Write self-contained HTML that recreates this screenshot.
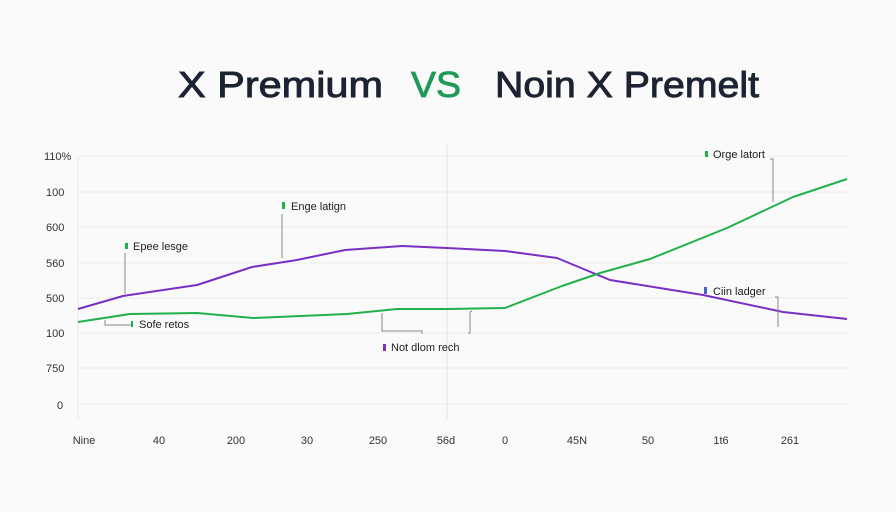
<!DOCTYPE html>
<html><head><meta charset="utf-8"><style>
html,body{margin:0;padding:0;background:#fafafa;}
svg{display:block;}
text{font-family:"Liberation Sans",sans-serif;}
</style></head><body>
<svg width="896" height="512" viewBox="0 0 896 512" xmlns="http://www.w3.org/2000/svg">
<rect width="896" height="512" fill="#fafafa"/>
<!-- title -->
<text x="178" y="97" font-size="36" fill="#1c2333" stroke="#1c2333" stroke-width="0.9" textLength="205" lengthAdjust="spacingAndGlyphs">X Premium</text>
<text x="411" y="97" font-size="36" fill="#1f9a58" stroke="#1f9a58" stroke-width="0.8" textLength="50" lengthAdjust="spacingAndGlyphs">VS</text>
<text x="495" y="97" font-size="36" fill="#1c2333" stroke="#1c2333" stroke-width="0.9" textLength="264" lengthAdjust="spacingAndGlyphs">Noin X Premelt</text>
<!-- gridlines -->
<g stroke="#ececec" stroke-width="1">
<line x1="78" y1="156" x2="847" y2="156"/>
<line x1="78" y1="192" x2="847" y2="192"/>
<line x1="78" y1="227" x2="847" y2="227"/>
<line x1="78" y1="263" x2="847" y2="263"/>
<line x1="78" y1="298" x2="847" y2="298"/>
<line x1="78" y1="333" x2="847" y2="333"/>
<line x1="78" y1="368" x2="847" y2="368"/>
<line x1="78" y1="404" x2="847" y2="404"/>
<line x1="78" y1="156" x2="78" y2="420"/>
<line x1="447" y1="145" x2="447" y2="420" stroke="#e2e2e2"/>
</g>
<!-- y labels -->
<g font-size="11" fill="#333">
<text x="44" y="160">110%</text>
<text x="46" y="196">100</text>
<text x="46" y="231">600</text>
<text x="46" y="267">560</text>
<text x="46" y="302">500</text>
<text x="46" y="337">100</text>
<text x="46" y="372">750</text>
<text x="57" y="409">0</text>
</g>
<!-- x labels -->
<g font-size="11" fill="#333" text-anchor="middle">
<text x="84" y="444">Nine</text>
<text x="159" y="444">40</text>
<text x="236" y="444">200</text>
<text x="307" y="444">30</text>
<text x="378" y="444">250</text>
<text x="446" y="444">56d</text>
<text x="505" y="444">0</text>
<text x="577" y="444">45N</text>
<text x="648" y="444">50</text>
<text x="721" y="444">1t6</text>
<text x="790" y="444">261</text>
</g>
<!-- series -->
<polyline fill="none" stroke="#7a2fc4" stroke-width="2" stroke-linejoin="round" points="78,309 123,296 197,285 252,267 297,260 345,250 402,246 447,248 505,251 557,258 610,280 703,295 783,312 847,319"/>
<polyline fill="none" stroke="#22b04a" stroke-width="2" stroke-linejoin="round" points="78,322 130,314 197,313 253,318 347,314 397,309 447,309 505,308 562,286 600,273 650,259 727,228 793,197 847,179"/>
<!-- annotations -->
<g stroke="#888" stroke-width="1" fill="none">
<polyline points="125,253 125,294"/>
<polyline points="105,320 105,325 132,325"/>
<polyline points="282,214 282,258"/>
<polyline points="382,313 382,331 422,331 422,334"/>
<polyline points="472,311 470,312 470,333 468,333"/>
<polyline points="770,159 773,159 773,202"/>
<polyline points="775,297 778,297 778,327"/>
</g>
<g font-size="11" fill="#222">
<rect x="125" y="243" width="3" height="6" fill="#22b04a"/>
<text x="133" y="250">Epee lesge</text>
<rect x="131" y="321" width="2" height="6" fill="#22b04a"/>
<text x="139" y="328">Sofe retos</text>
<rect x="282" y="202" width="3" height="7" fill="#22b04a"/>
<text x="291" y="210">Enge latign</text>
<rect x="383" y="344" width="3" height="7" fill="#7a2fc4"/>
<text x="391" y="351">Not dlom rech</text>
<rect x="705" y="151" width="3" height="6" fill="#22b04a"/>
<text x="713" y="158">Orge latort</text>
<rect x="704" y="287" width="3" height="7" fill="#4a5fd0"/>
<text x="713" y="295">Ciin ladger</text>
</g>
</svg>
</body></html>
